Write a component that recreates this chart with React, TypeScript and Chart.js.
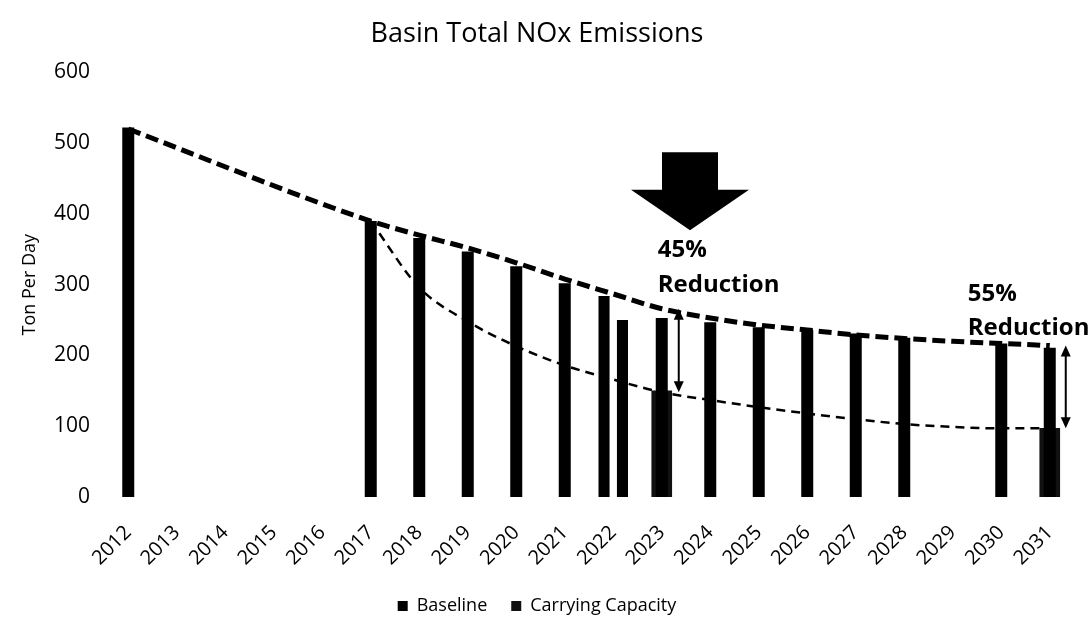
import React, { useEffect, useRef } from "react";
import { Chart, registerables } from "chart.js";

Chart.register(...registerables);

// ---- data ----
const years = ["2012","2013","2014","2015","2016","2017","2018","2019","2020","2021","2022","2023","2024","2025","2026","2027","2028","2029","2030","2031"];
const baselineTons = [522, null, null, null, null, 390, 366, 347, 326, 302, 284, 253, 247, 240, 236, 231, 225, null, 217, 211];
const interimTons = [null, null, null, null, null, null, null, null, null, null, 250, null, null, null, null, null, null, null, null, null];
const carryingCapacityTons = [null, null, null, null, null, null, null, null, null, null, null, 150, null, null, null, null, null, null, null, 97];
const baselineTrend = [520, null, null, null, null, 390, 370, 352, 331, 308, 287, 266, 253, 243, 236, 229, 224, 220, 217, 214];
const capacityTrend = [null, null, null, null, null, 390, 296, 248, 213, 186, 166, 148, 137, 127, 118, 110, 103, 99, 97, 97];
const yTicks = [0, 100, 200, 300, 400, 500, 600];

const FONT = "'Open Sans', 'DejaVu Sans', sans-serif";

const annotationPlugin = {
  id: "reductionNotes",
  afterDatasetsDraw(chart: any) {
    const { ctx, scales } = chart;
    const xs = scales.x;
    const ys = scales.y;
    ctx.save();
    ctx.fillStyle = "#000";
    ctx.strokeStyle = "#000";

    // big down arrow between 2023 and 2024
    const cx = (xs.getPixelForValue(11) + xs.getPixelForValue(12)) / 2 + 4;
    const top = ys.getPixelForValue(487);
    const headBase = ys.getPixelForValue(434);
    const tip = ys.getPixelForValue(377);
    ctx.beginPath();
    ctx.moveTo(cx - 28, top);
    ctx.lineTo(cx + 28, top);
    ctx.lineTo(cx + 28, headBase);
    ctx.lineTo(cx + 59, headBase);
    ctx.lineTo(cx, tip);
    ctx.lineTo(cx - 59, headBase);
    ctx.lineTo(cx - 28, headBase);
    ctx.closePath();
    ctx.fill();

    const dblArrow = (x: number, v1: number, v2: number) => {
      const y1 = ys.getPixelForValue(v1);
      const y2 = ys.getPixelForValue(v2);
      ctx.lineWidth = 2;
      ctx.beginPath();
      ctx.moveTo(x, y1 + 8);
      ctx.lineTo(x, y2 - 8);
      ctx.stroke();
      ctx.beginPath();
      ctx.moveTo(x, y1);
      ctx.lineTo(x - 5, y1 + 11);
      ctx.lineTo(x + 5, y1 + 11);
      ctx.closePath();
      ctx.fill();
      ctx.beginPath();
      ctx.moveTo(x, y2);
      ctx.lineTo(x - 5, y2 - 11);
      ctx.lineTo(x + 5, y2 - 11);
      ctx.closePath();
      ctx.fill();
    };
    const x23 = xs.getPixelForValue(11);
    const x31 = xs.getPixelForValue(19);
    dblArrow(x23 + 17, baselineTrend[11] as number, capacityTrend[11] as number);
    dblArrow(x31 + 16, baselineTrend[19] as number, capacityTrend[19] as number);

    ctx.font = `bold 24px ${FONT}`;
    ctx.textAlign = "left";
    ctx.textBaseline = "middle";
    ctx.fillText("45%", x23 - 4, 250);
    ctx.fillText("Reduction", x23 - 4, 285);
    ctx.fillText("55%", x31 - 82, 294);
    ctx.fillText("Reduction", x31 - 82, 328);
    ctx.restore();
  },
};

export default function App() {
  const ref = useRef<HTMLCanvasElement>(null);
  useEffect(() => {
    if (!ref.current) return;
    const chart = new Chart(ref.current, {
      type: "bar",
      data: {
        labels: years,
        datasets: [
          {
            type: "line",
            label: "Baseline trend",
            data: baselineTrend,
            borderColor: "#000",
            borderWidth: 5,
            borderDash: [13, 6],
            pointRadius: 0,
            spanGaps: true,
            cubicInterpolationMode: "monotone",
            fill: false,
            order: 0,
          } as any,
          {
            type: "line",
            label: "Capacity trend",
            data: capacityTrend,
            borderColor: "#000",
            borderWidth: 2.5,
            borderDash: [9, 6],
            pointRadius: 0,
            cubicInterpolationMode: "monotone",
            fill: false,
            order: 0,
          } as any,
          {
            label: "Baseline",
            data: baselineTons,
            backgroundColor: "#000",
            grouped: true,
            skipNull: true,
            categoryPercentage: 0.76,
            barPercentage: 0.6,
            maxBarThickness: 12,
            order: 1,
          } as any,
          {
            label: "Interim",
            data: interimTons,
            backgroundColor: "#000",
            grouped: true,
            skipNull: true,
            categoryPercentage: 0.76,
            barPercentage: 0.6,
            maxBarThickness: 12,
            order: 1,
          } as any,
          {
            label: "Carrying Capacity",
            data: carryingCapacityTons,
            backgroundColor: "#111",
            grouped: false,
            categoryPercentage: 1,
            barPercentage: 1,
            maxBarThickness: 20,
            order: 1,
          } as any,
        ],
      },
      options: {
        animation: false,
        responsive: false,
        layout: { padding: { left: 0, right: 17, top: 10, bottom: 4 } },
        plugins: {
          title: {
            display: true,
            text: "Basin Total NOx Emissions",
            color: "#000",
            font: { family: FONT, size: 27, weight: "normal" },
            padding: { top: 8, bottom: 22 },
          },
          legend: {
            position: "bottom",
            labels: {
              color: "#000",
              font: { family: FONT, size: 18 },
              boxWidth: 10,
              boxHeight: 10,
              padding: 24,
              filter: (item: any) => item.text === "Baseline" || item.text === "Carrying Capacity",
            },
          },
          tooltip: { enabled: false },
        },
        scales: {
          x: {
            grid: { display: false },
            border: { display: false },
            ticks: {
              color: "#000",
              font: { family: FONT, size: 20 },
              minRotation: 45,
              maxRotation: 45,
              autoSkip: false,
              padding: 16,
            },
            afterFit: (s: any) => { s.height = 76; },
          },
          y: {
            min: 0,
            max: 600,
            afterBuildTicks: (s: any) => { s.ticks = yTicks.map((v) => ({ value: v })); },
            grid: { display: false },
            border: { display: false },
            ticks: {
              color: "#000",
              font: { family: FONT, size: 21 },
              padding: 6,
            },
            title: {
              display: true,
              text: "Ton Per Day",
              color: "#000",
              font: { family: FONT, size: 18 },
              padding: { top: 19, bottom: 0 },
            },
            afterFit: (s: any) => { s.width = 104; },
          },
        },
      },
      plugins: [annotationPlugin],
    });
    return () => chart.destroy();
  }, []);
  return (
    <div style={{ position: "absolute", left: 0, top: 0, width: 1091, height: 629, background: "#fff" }}>
      <canvas ref={ref} width={1091} height={629} />
    </div>
  );
}
